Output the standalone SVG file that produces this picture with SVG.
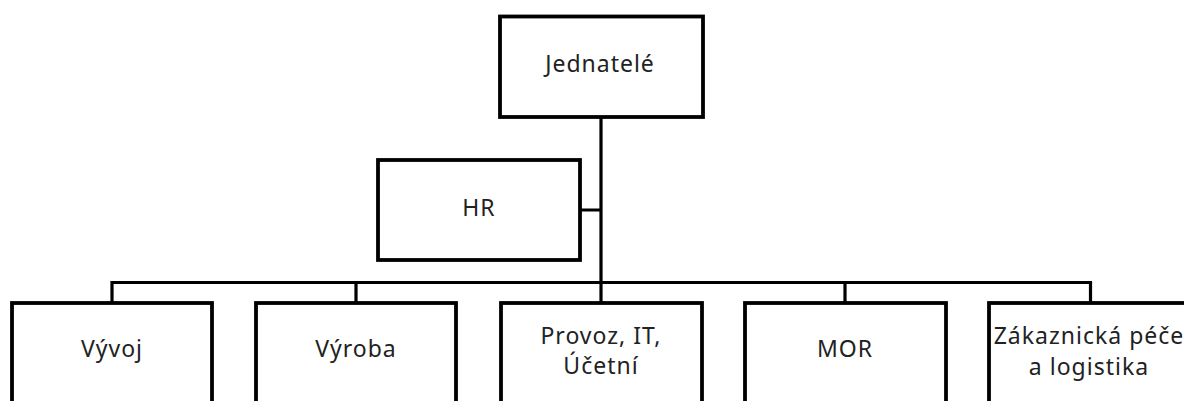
<svg xmlns="http://www.w3.org/2000/svg" width="1184" height="401" viewBox="0 0 1184 401">
<style>
.box{fill:#fff;stroke:#000;stroke-width:3.8}
.ln{fill:none;stroke:#000;stroke-width:3.2}
text{font-family:"Noto Sans","Open Sans",sans-serif;font-size:23px;letter-spacing:1px;fill:#222;text-anchor:middle}
</style>
<rect width="1184" height="401" fill="#fff"/>
<g id="connectors">
<path class="ln" d="M601 117V282.5M580 210H601M112 282.5H1090.5M112 281V303M356 281V303M601 281V303M845 281V303M1090.5 281V303"/>
</g>
<g id="jednatele"><rect class="box" x="500" y="16.5" width="203" height="100.5"/><text x="600" y="72">Jednatelé</text></g>
<g id="hr"><rect class="box" x="378" y="160" width="202" height="100"/><text x="479" y="216">HR</text></g>
<g id="vyvoj"><rect class="box" x="12" y="303" width="200" height="120"/><text x="112" y="357">Vývoj</text></g>
<g id="vyroba"><rect class="box" x="256" y="303" width="200" height="120"/><text x="356" y="357">Výroba</text></g>
<g id="provoz"><rect class="box" x="501" y="303" width="201" height="120"/><text x="601" y="344">Provoz, IT,</text><text x="601" y="374">Účetní</text></g>
<g id="mor"><rect class="box" x="745" y="303" width="201" height="120"/><text x="845" y="357">MOR</text></g>
<g id="zakaznicka"><rect class="box" x="989" y="303" width="201" height="120"/><text x="1089" y="344">Zákaznická péče</text><text x="1089" y="375">a logistika</text></g>
</svg>
